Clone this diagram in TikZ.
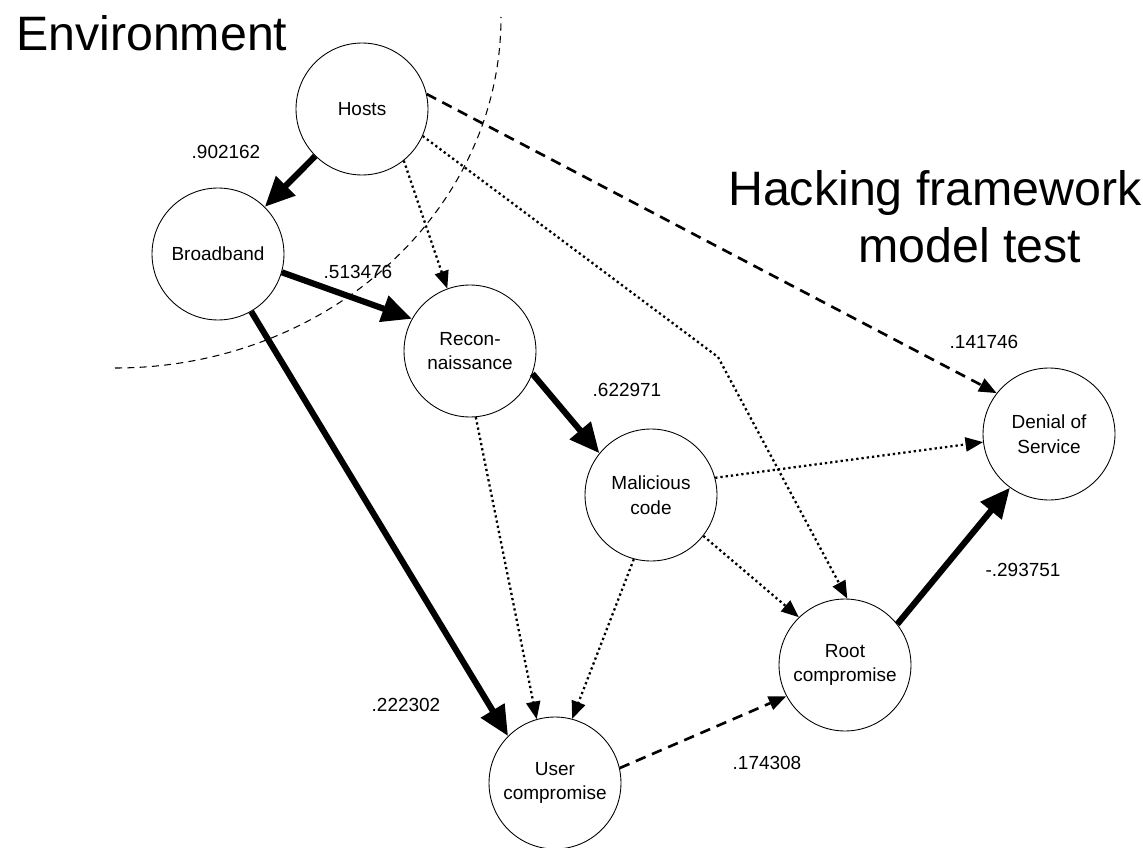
\documentclass[tikz,border=0pt]{standalone}
\usepackage{fontspec}
\setmainfont{Liberation Sans}
\usetikzlibrary{arrows.meta}

\tikzset{
  factor/.style={circle, draw, line width=0.5pt, minimum size=2.64cm, inner sep=0pt,
    align=center, font=\fontsize{10.8}{14}\selectfont},
  strong/.style={line width=3.5pt, -{Triangle[length=17pt,width=15pt]}},
  weak/.style={line width=1.3pt, dash pattern=on 1.3pt off 1.7pt, -{Triangle[length=10pt,width=8pt]}},
  moderate/.style={line width=1.5pt, dash pattern=on 6pt off 4pt, -{Triangle[length=10pt,width=8pt]}},
  coef/.style={font=\fontsize{10.8}{14}\selectfont},
  heading/.style={font=\fontsize{27.5}{32}\selectfont}
}

\begin{document}
\begin{tikzpicture}[x=0.02cm, y=-0.02cm]
    \useasboundingbox (0,0) rectangle (1143,848);

    % Titles
    \node[heading, anchor=base west] (env) at (10,51) {Environment};
    \node[heading, anchor=base west] (title1) at (722,205) {Hacking framework};
    \node[heading, anchor=base west] (title2) at (852,262) {model test};

    % Environment boundary
    \draw[line width=0.6pt, dash pattern=on 4pt off 3pt] (115,368)
        arc[start angle=90, end angle=0, x radius=386, y radius=351];

    % Nodes
    \node[factor] (hosts) at (362,109) {Hosts};
    \node[factor] (bb) at (218,254) {Broadband};
    \node[factor] (recon) at (470,351) {Recon-\\naissance};
    \node[factor] (mal) at (651,495) {Malicious\\code};
    \node[factor] (dos) at (1049,434) {Denial of\\Service};
    \node[factor] (root) at (845,665) {Root\\compromise};
    \node[factor] (user) at (555,783) {User\\compromise};
    \coordinate (bend) at (718,357);

    % Edges
    \draw[strong] (hosts) -- (bb);
    \draw[strong] (bb.-16) -- (recon.151);
    \draw[strong] (bb.-60) -- (user.135);
    \draw[strong] (recon.-20) -- (mal.141);
    \draw[strong] (root.38) -- (dos.-126);

    \draw[weak] (hosts.-51) -- (recon.110);
    \draw[weak] (hosts.-24) -- (bend) -- (root.88);
    \draw[weak] (recon.-85) -- (user.106);
    \draw[weak] (mal.-105) -- (user.75);
    \draw[weak] (mal.15) -- (dos.-173);
    \draw[weak] (mal.-38) -- (root.134);

    \draw[moderate] (hosts.13) -- (dos.142);
    \draw[moderate] (user.13) -- (root.-152);

    % Coefficients
    \node[coef] (c1) at (226,152) {.902162};
    \node[coef] (c2) at (358,272) {.513476};
    \node[coef] (c3) at (627,390) {.622971};
    \node[coef] (c4) at (984,342) {.141746};
    \node[coef] (c5) at (1023,570) {-.293751};
    \node[coef] (c6) at (406,705) {.222302};
    \node[coef] (c7) at (767,763) {.174308};
\end{tikzpicture}
\end{document}
